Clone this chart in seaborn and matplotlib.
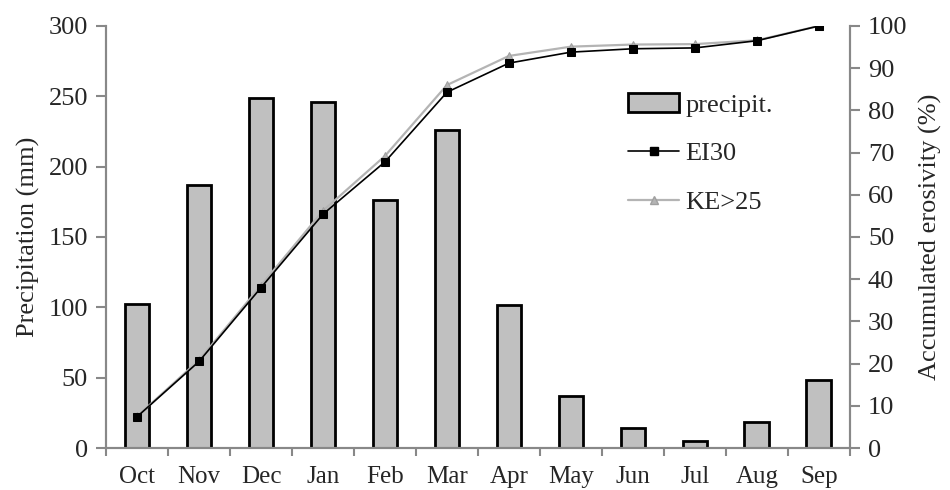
import numpy as np
import pandas as pd
import seaborn as sns
import matplotlib.pyplot as plt
from matplotlib.patches import Patch
from matplotlib.lines import Line2D

months = ['Oct', 'Nov', 'Dec', 'Jan', 'Feb', 'Mar', 'Apr', 'May', 'Jun', 'Jul', 'Aug', 'Sep']
precip = [102.6, 187, 248.5, 245.7, 176.5, 226, 101.6, 37, 14.2, 4.7, 18.7, 48]
ei30 = [7.4, 20.5, 38.0, 55.4, 67.8, 84.3, 91.2, 93.8, 94.6, 94.8, 96.5, 100]
ke25 = [7.5, 20.8, 38.5, 56.2, 69.2, 86.0, 92.9, 95.1, 95.6, 95.7, 96.6, 100]

df = pd.DataFrame({'month': months, 'precip': precip, 'ei30': ei30, 'ke25': ke25})
df['pos'] = np.arange(len(df))

sns.set_style('white')
plt.rcParams['font.family'] = ['Liberation Serif', 'DejaVu Serif']
fs = 19

fig = plt.figure(figsize=(9.5, 4.9), dpi=100)
ax = fig.add_axes([0.1116, 0.0857, 0.783, 0.8613])

sns.barplot(data=df, x='month', y='precip', color='#c0c0c0', saturation=1,
            width=0.4, edgecolor='black', linewidth=2, ax=ax)

ax2 = ax.twinx()
sns.lineplot(data=df, x='pos', y='ke25', color='#b4b4b4', linewidth=1.6,
             marker='^', markersize=6, markeredgecolor='#a0a0a0', ax=ax2)
sns.lineplot(data=df, x='pos', y='ei30', color='black', linewidth=1.2,
             marker='s', markersize=6, markeredgecolor='black', ax=ax2)

grey = '#888888'
ax.set_xlim(-0.5, 11.5)
ax.set_ylim(0, 300)
ax2.set_ylim(0, 100)
ax.set_yticks(range(0, 301, 50))
ax2.set_yticks(range(0, 101, 10))
ax.set_xticks(np.arange(-0.5, 12, 1), minor=True)

for a in (ax, ax2):
    a.spines['top'].set_visible(False)
    for s in ('left', 'right', 'bottom'):
        a.spines[s].set_color(grey)
        a.spines[s].set_linewidth(1.5)
ax.tick_params(axis='y', direction='out', length=7, width=1.5, color=grey,
               left=True, labelsize=fs, pad=6)
ax2.tick_params(axis='y', direction='out', length=7, width=1.5, color=grey,
                right=True, labelsize=fs, pad=6)
ax.tick_params(axis='x', which='major', length=0, labelsize=18, pad=13)
ax.tick_params(axis='x', which='minor', direction='out', length=6, width=1.5,
               color=grey, bottom=True)

ax.set_xlabel('')
ax.set_ylabel('Precipitation (mm)', fontsize=fs, labelpad=6)
ax2.set_ylabel('Accumulated erosivity (%)', fontsize=fs, labelpad=8)

handles = [Patch(facecolor='#c0c0c0', edgecolor='black', linewidth=2),
           Line2D([], [], color='black', linewidth=1.2, marker='s', markersize=6),
           Line2D([], [], color='#b4b4b4', linewidth=1.6, marker='^', markersize=6,
                  markeredgecolor='#a0a0a0')]
ax2.legend(handles, ['precipit.', 'EI30', 'KE>25'], loc='upper left',
           bbox_to_anchor=(0.684, 0.872), frameon=False, fontsize=fs, borderpad=0,
           handlelength=1.95, handletextpad=0.23, labelspacing=0.95)

fig.savefig('out.png', dpi=100)
